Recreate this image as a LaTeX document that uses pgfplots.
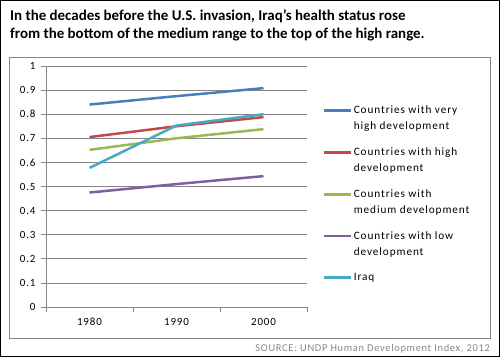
\documentclass[border=0pt]{standalone}
\usepackage{fontspec}
\setmainfont{Carlito}
\newfontfamily\lsfont{Carlito}[LetterSpace=8]
\newfontfamily\srcfont{Carlito}[LetterSpace=6.5]
\usepackage{pgfplots}
\pgfplotsset{compat=1.18}
\definecolor{colvh}{HTML}{4A7EBB}
\definecolor{colh}{HTML}{BE4B48}
\definecolor{colm}{HTML}{98B954}
\definecolor{coll}{HTML}{7D60A0}
\definecolor{coli}{HTML}{46AAC5}
\definecolor{gridc}{HTML}{868686}
\newcommand{\two}[2]{\vtop{\baselineskip=16bp\hbox{#1}\hbox{#2}}}
\begin{document}
\begin{tikzpicture}[x=1bp,y=1bp]
\useasboundingbox (0,0) rectangle (500,357);
\draw[line width=1.2bp] (0.6,0.6) rectangle (499.4,356.4);
\draw[gridc, line width=0.8bp] (9,19) rectangle (490,300);
\node[anchor=base west, inner sep=0, font=\bfseries\fontsize{15}{17}\selectfont] at (10,337) {In the decades before the U.S. invasion, Iraq's health status rose};
\node[anchor=base west, inner sep=0, font=\bfseries\fontsize{15}{17}\selectfont] at (10,319) {from the bottom of the medium range to the top of the high range.};
\node[anchor=base east, inner sep=0, text=gridc, font=\srcfont\fontsize{10.5}{12}\selectfont] at (490,6) {SOURCE: UNDP Human Development Index, 2012};
\begin{axis}[
  at={(46bp,50bp)}, anchor=south west,
  scale only axis, width=261bp, height=241bp,
  xmin=-0.5, xmax=2.5, ymin=0, ymax=1,
  axis x line*=bottom, axis y line*=left,
  axis line style={gridc, line width=0.8bp},
  xtick={0,1,2}, xticklabels={1980,1990,2000},
  minor xtick={-0.5,0.5,1.5,2.5},
  major x tick style={draw=none},
  minor x tick style={gridc, line width=0.8bp},
  ytick={0,0.1,0.2,0.3,0.4,0.5,0.6,0.7,0.8,0.9,1},
  yticklabels={0,0.1,0.2,0.3,0.4,0.5,0.6,0.7,0.8,0.9,1},
  y tick style={gridc, line width=0.8bp},
  tick align=outside, major tick length=5bp, minor tick length=5bp,
  ymajorgrids, grid style={gridc, line width=0.8bp},
  tick label style={font=\lsfont\fontsize{11}{12}\selectfont},
  xticklabel style={anchor=base, yshift=-13bp},
  yticklabel style={xshift=-2bp},
  legend style={at={(1.058,0.843)}, anchor=north west, draw=none, fill=none,
    inner sep=0pt, font=\lsfont\fontsize{11.3}{16}\selectfont, row sep=28.5bp},
  legend cell align=left,
  legend image code/.code={\draw[#1] (0bp,0bp) -- (27bp,0bp);},
  every axis plot/.append style={line width=2.5bp},
]
\addplot[colvh] coordinates {(0,0.84) (1,0.875) (2,0.908)};
\addlegendentry{\two{Countries with very}{high development}}
\addplot[colh] coordinates {(0,0.705) (1,0.75) (2,0.788)};
\addlegendentry{\two{Countries with high}{development}}
\addplot[colm] coordinates {(0,0.652) (1,0.70) (2,0.738)};
\addlegendentry{\two{Countries with}{medium development}}
\addplot[coll] coordinates {(0,0.475) (1,0.51) (2,0.543)};
\addlegendentry{\two{Countries with low}{development}}
\addplot[coli] coordinates {(0,0.577) (1,0.753) (2,0.80)};
\addlegendentry{Iraq}
\end{axis}
\end{tikzpicture}
\end{document}
